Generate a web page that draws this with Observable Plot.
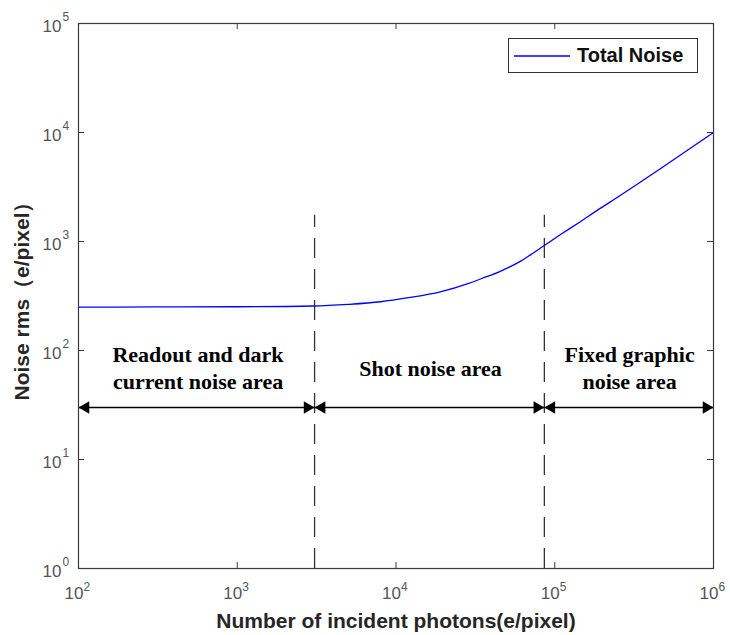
<!DOCTYPE html>
<html><head><meta charset="utf-8">
<script src="https://cdn.jsdelivr.net/npm/d3@7"></script>
<script src="https://cdn.jsdelivr.net/npm/@observablehq/plot@0.6"></script>
<style>
body{margin:0;background:#fff;}
#wrap{position:relative;width:730px;height:635px;}
#legend{position:absolute;z-index:2;left:508px;top:38px;width:190px;height:35px;border:1px solid #333;background:#fff;box-sizing:border-box;font-family:"Liberation Sans",Arial,sans-serif;font-weight:bold;font-size:20px;color:#111;display:flex;align-items:center;}
#legend svg{display:block;margin-right:2px;}
</style></head><body>
<div id="wrap"></div>
<script>
// Data
const photons = [100, 300, 1000, 3000, 5000, 8000, 12000, 19000, 29000, 35000, 45000, 61000, 70000, 86000, 110000, 145000, 190000, 250000, 460000, 1000000];
const noise   = [250, 251, 252, 256, 265, 280, 305, 345, 415, 460, 530, 660, 750, 920, 1170, 1520, 1980, 2560, 4620, 10000];
const xTicks = [100, 1000, 10000, 100000, 1000000];
const yTicks = [1, 10, 100, 1000, 10000, 100000];
const dividers = [3070, 86000];
const dividerTop = 1740;
const arrowLevel = 30;
const segments = [[100, 3070], [3070, 86000], [86000, 1000000]];
const regionLabels = [
  {x: 566, y: 71, text: "Readout and dark\ncurrent noise area"},
  {x: 16500, y: 71, text: "Shot noise area"},
  {x: 296000, y: 71, text: "Fixed graphic\nnoise area"}
];
const seriesName = "Total Noise";
const xLabel = "Number of incident photons(e/pixel)";
const yLabel = "Noise rms（e/pixel）";

const rows = photons.map((p, i) => ({p, n: noise[i]}));
const sans = "'Liberation Sans', Arial, sans-serif";
const serif = "'Liberation Serif', 'Times New Roman', serif";
const axisCol = "#3a3a3a";
const labCol = "#555";

const chart = Plot.plot({
  width: 730, height: 635,
  marginLeft: 78, marginRight: 17, marginTop: 23, marginBottom: 67,
  style: {fontFamily: sans, background: "#fff"},
  x: {type: "log", domain: [100, 1000000], axis: null},
  y: {type: "log", domain: [1, 100000], axis: null},
  marks: [
    // inward ticks
    Plot.tickX(xTicks, {x: d => d, insetTop: 539, stroke: axisCol}),
    Plot.tickX(xTicks, {x: d => d, insetBottom: 539, stroke: axisCol}),
    Plot.tickY(yTicks, {y: d => d, insetRight: 629, stroke: axisCol}),
    Plot.tickY(yTicks, {y: d => d, insetLeft: 629, stroke: axisCol}),
    // tick labels
    Plot.text(xTicks, {x: d => d, frameAnchor: "bottom", text: () => "10", textAnchor: "end", dx: 5, dy: 30, fontSize: 17, fill: labCol}),
    Plot.text(xTicks, {x: d => d, frameAnchor: "bottom", text: d => String(Math.round(Math.log10(d))), textAnchor: "start", dx: 5, dy: 22, fontSize: 12, fill: labCol}),
    Plot.text(yTicks, {y: d => d, frameAnchor: "left", text: () => "10", textAnchor: "end", dx: -17, dy: 3, fontSize: 17, fill: labCol}),
    Plot.text(yTicks, {y: d => d, frameAnchor: "left", text: d => String(Math.round(Math.log10(d))), textAnchor: "start", dx: -16, dy: -6, fontSize: 12, fill: labCol}),
    // axis titles
    Plot.text([xLabel], {frameAnchor: "bottom", text: d => d, dy: 59, fontSize: 21, fontWeight: "bold", fill: "#262626"}),
    Plot.text([yLabel], {frameAnchor: "left", text: d => d, textAnchor: "middle", rotate: -90, dx: -56, fontSize: 21, fontWeight: "bold", fill: "#262626"}),
    // dashed dividers
    Plot.ruleX(dividers, {x: d => d, y1: 1, y2: dividerTop, stroke: "#333", strokeWidth: 1.3, strokeDasharray: "20,11"}),
    // arrows
    Plot.link(segments, {x1: d => d[0], x2: d => d[1], y1: arrowLevel, y2: arrowLevel, stroke: "#000", strokeWidth: 1.5}),
    Plot.dot(segments, {x: d => d[0], y: arrowLevel, symbol: "triangle", r: 4.6, rotate: -90, dx: 7.2, fill: "#000", stroke: "none"}),
    Plot.dot(segments, {x: d => d[1], y: arrowLevel, symbol: "triangle", r: 4.6, rotate: 90, dx: -7.2, fill: "#000", stroke: "none"}),
    // region labels
    Plot.text(regionLabels, {x: "x", y: "y", text: "text", fontFamily: serif, fontWeight: "bold", fontSize: 22, lineHeight: 1.25, fill: "#000"}),
    // curve
    Plot.line(rows, {x: "p", y: "n", stroke: "blue", strokeWidth: 1.3, curve: "monotone-x"}),
    Plot.frame({stroke: axisCol, strokeWidth: 1.2})
  ]
});
const wrap = document.getElementById("wrap");
wrap.appendChild(chart);
const legend = document.createElement("div");
legend.id = "legend";
legend.innerHTML = `<svg width="66" height="10"><line x1="5" x2="61" y1="5" y2="5" stroke="blue" stroke-width="1.3"/></svg><span>${seriesName}</span>`;
wrap.appendChild(legend);
</script>
</body></html>
